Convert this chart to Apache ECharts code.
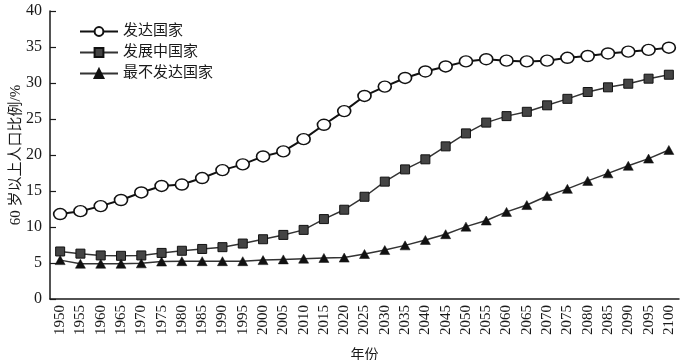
<!DOCTYPE html>
<html>
<head>
<meta charset="utf-8">
<script src="https://cdn.jsdelivr.net/npm/echarts@6/dist/echarts.min.js"></script>
<style>
html,body{margin:0;padding:0;background:#fff;}
#c{width:680px;height:360px;}
</style>
</head>
<body>
<div id="c"></div>
<script>
const years = ['1950','1955','1960','1965','1970','1975','1980','1985','1990','1995','2000','2005','2010','2015','2020','2025','2030','2035','2040','2045','2050','2055','2060','2065','2070','2075','2080','2085','2090','2095','2100'];
const developed = [11.8,12.2,12.9,13.75,14.8,15.7,15.9,16.8,17.9,18.7,19.8,20.5,22.2,24.2,26.1,28.2,29.5,30.7,31.6,32.3,33.0,33.3,33.1,33.0,33.1,33.5,33.75,34.1,34.35,34.6,34.9];
const developing = [6.6,6.3,6.05,6.0,6.05,6.4,6.7,6.95,7.2,7.7,8.3,8.9,9.6,11.1,12.4,14.2,16.3,18.0,19.4,21.2,23.0,24.5,25.4,26.0,26.9,27.8,28.75,29.4,29.9,30.6,31.15];
const leastDeveloped = [5.4,4.9,4.9,4.9,4.95,5.2,5.25,5.25,5.25,5.25,5.4,5.5,5.6,5.7,5.75,6.25,6.8,7.45,8.2,9.0,10.05,10.9,12.1,13.05,14.3,15.3,16.4,17.45,18.5,19.5,20.7];
const seriesNames = ['发达国家','发展中国家','最不发达国家'];
const yTicks = {min:0, max:40, interval:5};
const xTitle = '年份';
const yTitle = '60 岁以上人口比例/%';

const FONT = '"Liberation Serif", "Noto Sans CJK SC", serif';
const chart = echarts.init(document.getElementById('c'), null, {renderer:'canvas'});
chart.setOption({
  backgroundColor:'#fff',
  animation:false,
  textStyle:{fontFamily:FONT, color:'#1a1a1a'},
  grid:{left:50, right:1, top:11, bottom:61, containLabel:false, outerBoundsMode:'none'},
  graphic:[{
    type:'text', x:16, y:155, rotation:Math.PI/2,
    style:{text:yTitle, align:'center', verticalAlign:'middle', fontFamily:FONT, fontSize:15, fill:'#1a1a1a'}
  }],
  legend:{
    orient:'vertical', left:74, top:19, itemWidth:38, itemHeight:11, itemGap:6,
    textStyle:{fontFamily:FONT, fontSize:15, color:'#1a1a1a'},
    data:seriesNames
  },
  xAxis:{
    type:'category', data:years, boundaryGap:true,
    name:xTitle, nameLocation:'middle', nameGap:49,
    nameTextStyle:{fontFamily:FONT, fontSize:14, color:'#1a1a1a'},
    axisLine:{lineStyle:{color:'#1a1a1a', width:1.5}},
    axisTick:{inside:true, length:7, lineStyle:{color:'#1a1a1a', width:1.2}},
    axisLabel:{interval:0, rotate:90, fontSize:15, color:'#1a1a1a', margin:6, fontFamily:FONT},
    splitLine:{show:false}
  },
  yAxis:{
    type:'value', min:yTicks.min, max:yTicks.max, interval:yTicks.interval,
    axisLine:{show:true, lineStyle:{color:'#1a1a1a', width:1.5}},
    axisTick:{show:true, inside:true, length:6, lineStyle:{color:'#1a1a1a', width:1.2}},
    axisLabel:{fontSize:16, color:'#1a1a1a', margin:8, fontFamily:FONT},
    splitLine:{show:false}
  },
  series:[
    {name:seriesNames[0], type:'line', data:developed, symbol:'circle', symbolSize:[13,11],
     lineStyle:{color:'#111', width:2}, itemStyle:{color:'#fff', borderColor:'#111', borderWidth:1.5}},
    {name:seriesNames[1], type:'line', data:developing, symbol:'rect', symbolSize:9,
     lineStyle:{color:'#333', width:1.5}, itemStyle:{color:'#444', borderColor:'#111', borderWidth:1}},
    {name:seriesNames[2], type:'line', data:leastDeveloped, symbol:'triangle', symbolSize:[10,9],
     lineStyle:{color:'#333', width:1.5}, itemStyle:{color:'#111', borderColor:'#111', borderWidth:0.5}}
  ]
});
</script>
</body>
</html>
